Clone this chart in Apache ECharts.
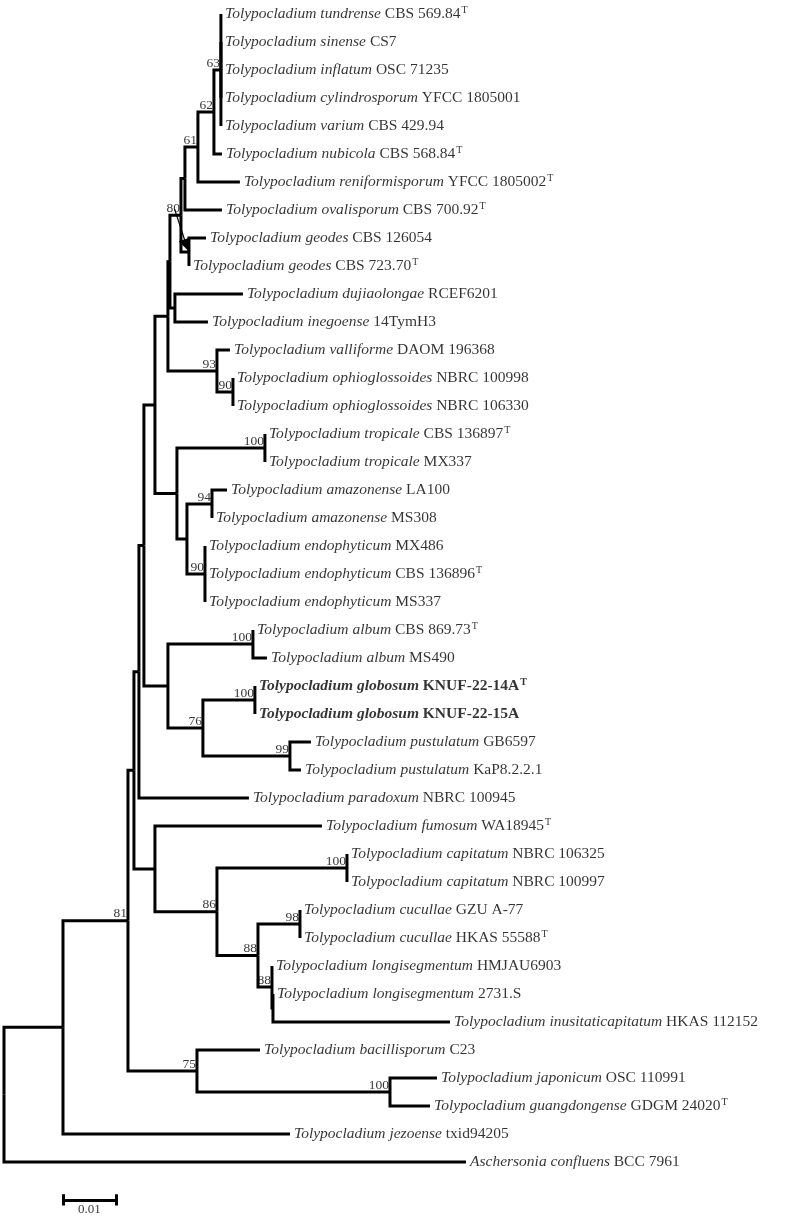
<!DOCTYPE html>
<html><head><meta charset="utf-8">
<script src="https://cdn.jsdelivr.net/npm/echarts@6/dist/echarts.min.js"></script>
<style>html,body{margin:0;padding:0;background:#fff}#chart{width:800px;height:1218px}</style>
</head><body><div id="chart"></div>
<script>
// ---- DATA ----
const taxa = ['Tolypocladium tundrense','Tolypocladium sinense','Tolypocladium inflatum','Tolypocladium cylindrosporum','Tolypocladium varium','Tolypocladium nubicola','Tolypocladium reniformisporum','Tolypocladium ovalisporum','Tolypocladium geodes','Tolypocladium geodes','Tolypocladium dujiaolongae','Tolypocladium inegoense','Tolypocladium valliforme','Tolypocladium ophioglossoides','Tolypocladium ophioglossoides','Tolypocladium tropicale','Tolypocladium tropicale','Tolypocladium amazonense','Tolypocladium amazonense','Tolypocladium endophyticum','Tolypocladium endophyticum','Tolypocladium endophyticum','Tolypocladium album','Tolypocladium album','Tolypocladium globosum','Tolypocladium globosum','Tolypocladium pustulatum','Tolypocladium pustulatum','Tolypocladium paradoxum','Tolypocladium fumosum','Tolypocladium capitatum','Tolypocladium capitatum','Tolypocladium cucullae','Tolypocladium cucullae','Tolypocladium longisegmentum','Tolypocladium longisegmentum','Tolypocladium inusitaticapitatum','Tolypocladium bacillisporum','Tolypocladium japonicum','Tolypocladium guangdongense','Tolypocladium jezoense','Aschersonia confluens'];
const strains = ['CBS 569.84','CS7','OSC 71235','YFCC 1805001','CBS 429.94','CBS 568.84','YFCC 1805002','CBS 700.92','CBS 126054','CBS 723.70','RCEF6201','14TymH3','DAOM 196368','NBRC 100998','NBRC 106330','CBS 136897','MX337','LA100','MS308','MX486','CBS 136896','MS337','CBS 869.73','MS490','KNUF-22-14A','KNUF-22-15A','GB6597','KaP8.2.2.1','NBRC 100945','WA18945','NBRC 106325','NBRC 100997','GZU A-77','HKAS 55588','HMJAU6903','2731.S','HKAS 112152','C23','OSC 110991','GDGM 24020','txid94205','BCC 7961'];
const typeStrain = [1,0,0,0,0,1,1,1,0,1, 0,0,0,0,0,1,0,0,0,0, 1,0,1,0,1,0,0,0,0,1, 0,0,0,1,0,0,0,0,0,1, 0,0];
const boldTaxon = [0,0,0,0,0,0,0,0,0,0, 0,0,0,0,0,0,0,0,0,0, 0,0,0,0,1,1,0,0,0,0, 0,0,0,0,0,0,0,0,0,0, 0,0];
// parent internal node of each leaf, and its branch length (substitutions/site)
const leafParent = [13,13,13,13,13,12,11,10,14,14, 15,15,16,17,17,19,19,21,21,22, 22,22,24,24,26,26,27,27,4,28, 30,30,32,32,33,34,34,35,36,36, 1,0];
const leafLength = [0,0,0,0,0,0.00151,0.00792,0.00698,0.00321,0, 0.01283,0.00623,0.00245,0,0,0,0,0.00283,0,0, 0,0,0,0.00264,0,0,0.00396,0.00208,0.02075,0.03151, 0,0,0,0,0,0,0.0334,0.01189,0.00887,0.00755, 0.04283,0.08717];
// internal nodes: parent, branch length, bootstrap support
const nodeParent = [-1,0,1,2,3,4,5,6,7,8, 9,10,11,12,9,8,7,16,6,18, 18,20,20,5,23,23,25,25,3,28, 29,29,31,31,33,2,35];
const nodeLength = [0,0.01113,0.01226,0.00113,0.00094,0.00094,0.00208,0.00245,0.00038,0.00208, 0.00075,0.00245,0.00302,0.00132,0.00151,0.00094,0.00925,0.00302,0.00415,0.0166, 0.00189,0.00472,0.0034,0.00453,0.01604,0.0066,0.00981,0.01642,0.00396,0.0117, 0.02453,0.00774,0.00792,0.00264,0.00019,0.01302,0.03642];
const nodeSupport = [null,null,81,null,null,null,null,null,null,80, null,61,62,63,null,null,93,90,null,100, null,94,90,null,100,76,100,99,null,86, 100,88,98,88,null,75,100];
const scaleBarLength = 0.01;
const scaleBarLabel = '0.01';

// ---- LAYOUT (tree coordinates from branch lengths) ----
const nN = nodeParent.length, nL = taxa.length;
const nodeX = new Array(nN).fill(0);
for (let i = 1; i < nN; i++) nodeX[i] = nodeX[nodeParent[i]] + nodeLength[i];
const leafX = leafLength.map((l, j) => nodeX[leafParent[j]] + l);
const leafY = taxa.map((_, j) => j);
const mn = new Array(nN).fill(Infinity), mx = new Array(nN).fill(-Infinity);
leafY.forEach((y, j) => { const p = leafParent[j]; mn[p] = Math.min(mn[p], y); mx[p] = Math.max(mx[p], y); });
const nodeY = new Array(nN).fill(0);
for (let i = nN - 1; i >= 0; i--) {
  nodeY[i] = (mn[i] + mx[i]) / 2;
  const p = nodeParent[i];
  if (p >= 0) { mn[p] = Math.min(mn[p], nodeY[i]); mx[p] = Math.max(mx[p], nodeY[i]); }
}
const branches = [];
for (let i = 1; i < nN; i++) {
  const p = nodeParent[i];
  branches.push({coords: [[nodeX[p], nodeY[p]], [nodeX[p], nodeY[i]], [nodeX[i], nodeY[i]]]});
}
for (let j = 0; j < nL; j++) {
  const p = leafParent[j];
  branches.push({coords: [[nodeX[p], nodeY[p]], [nodeX[p], leafY[j]], [leafX[j], leafY[j]]]});
}
const supportPts = [];
nodeSupport.forEach((s, i) => { if (s != null) supportPts.push([nodeX[i], nodeY[i], s]); });
// arrow from the "80" label toward the geodes node
const arrow = [{coords: [[nodeX[9] - 0.0012, nodeY[9] - 0.22], [nodeX[14] - 0.0005, nodeY[14] - 0.25]]}];
const sbX0 = 0.0111, sbY = 42.35;
const scaleBar = [
  {coords: [[sbX0, sbY], [sbX0 + scaleBarLength, sbY]]},
  {coords: [[sbX0, sbY - 0.2], [sbX0, sbY + 0.2]]},
  {coords: [[sbX0 + scaleBarLength, sbY - 0.2], [sbX0 + scaleBarLength, sbY + 0.2]]}
];

const FONT = "'Liberation Serif','Times New Roman',serif";
const FS = 15.5;
const rich = {
  i: {fontFamily: FONT, fontSize: FS, fontStyle: 'italic', color: '#000', lineHeight: 18},
  n: {fontFamily: FONT, fontSize: FS, color: '#000', lineHeight: 18},
  s: {fontFamily: FONT, fontSize: 10, color: '#000', lineHeight: 12, verticalAlign: 'top', padding: [0, 0, 0, 1]},
  bi: {fontFamily: FONT, fontSize: FS, fontStyle: 'italic', fontWeight: 'bold', color: '#000', lineHeight: 18},
  bn: {fontFamily: FONT, fontSize: FS, fontWeight: 'bold', color: '#000', lineHeight: 18},
  bs: {fontFamily: FONT, fontSize: 10, fontWeight: 'bold', color: '#000', lineHeight: 12, verticalAlign: 'top', padding: [0, 0, 0, 1]}
};

const chart = echarts.init(document.getElementById('chart'), null, {renderer: 'canvas'});
chart.setOption({
  backgroundColor: '#fff',
  animation: false,
  grid: {left: 4, top: 14, width: 795, height: 1204},
  xAxis: {type: 'value', min: 0, max: 0.15, show: false},
  yAxis: {type: 'value', min: 0, max: 43, inverse: true, show: false},
  series: [
    {type: 'lines', coordinateSystem: 'cartesian2d', polyline: true, silent: true, z: 2,
     data: branches, lineStyle: {color: '#000', width: 3, opacity: 1, cap: 'butt', join: 'miter'}},
    {type: 'scatter', symbolSize: 0, silent: true, z: 3,
     data: leafX.map((x, j) => [x, leafY[j]]),
     label: {show: true, position: 'right', distance: 4, rich: rich,
       formatter: p => {
         const j = p.dataIndex, b = boldTaxon[j] ? 'b' : '';
         return '{' + b + 'i|' + taxa[j] + '}{' + b + 'n| ' + strains[j] + '}' + (typeStrain[j] ? '{' + b + 's|T}' : '');
       }}},
    {type: 'scatter', symbolSize: 0, silent: true, z: 4,
     data: supportPts,
     label: {show: true, position: [0, 0], align: 'right', verticalAlign: 'bottom', offset: [-1, 0],
       fontFamily: FONT, fontSize: 13.5, color: '#000', formatter: p => String(p.value[2])}},
    {type: 'lines', coordinateSystem: 'cartesian2d', silent: true, z: 5,
     symbol: ['none', 'triangle'], symbolSize: 12,
     data: arrow, lineStyle: {color: '#000', width: 1.2, opacity: 1}},
    {type: 'lines', coordinateSystem: 'cartesian2d', silent: true, z: 2,
     data: scaleBar, lineStyle: {color: '#000', width: 3, opacity: 1}},
    {type: 'scatter', symbolSize: 0, silent: true,
     data: [[sbX0 + scaleBarLength / 2, sbY]],
     label: {show: true, position: 'bottom', distance: 3, fontFamily: FONT, fontSize: 13, color: '#000',
       formatter: () => scaleBarLabel}}
  ]
});
</script></body></html>
